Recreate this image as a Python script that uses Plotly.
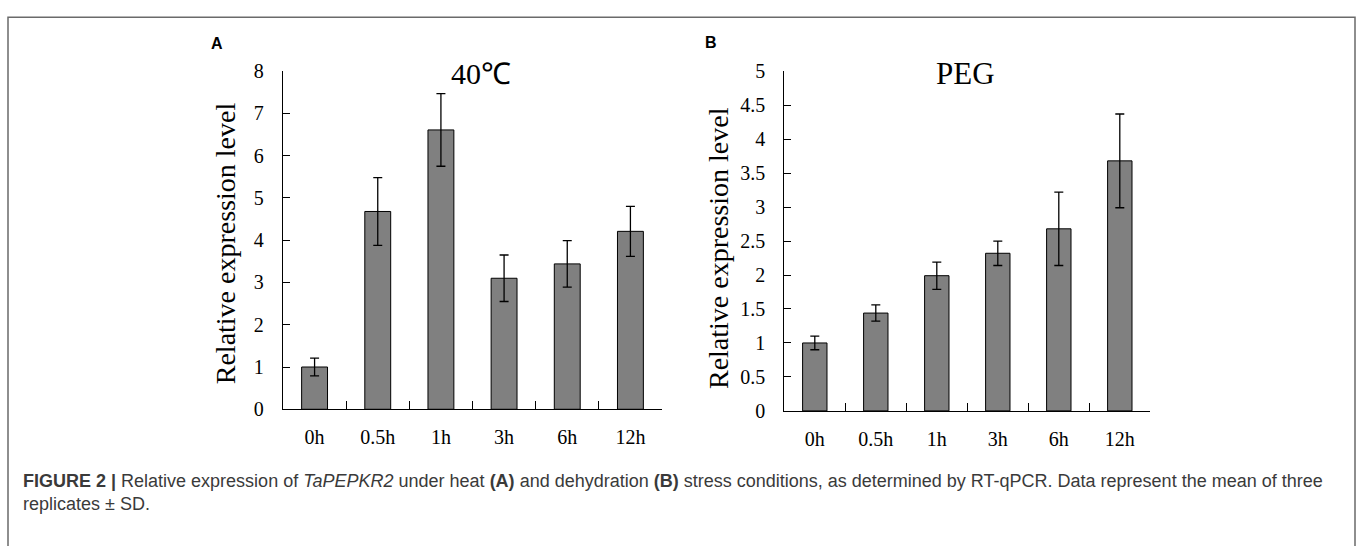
import plotly.graph_objects as go

W, H = 1358, 546

categories = ["0h", "0.5h", "1h", "3h", "6h", "12h"]

heat_values = [1.00, 4.68, 6.61, 3.10, 3.44, 4.21]
heat_sd = [0.21, 0.80, 0.86, 0.55, 0.55, 0.59]

peg_values = [1.00, 1.44, 1.99, 2.32, 2.68, 3.68]
peg_sd = [0.10, 0.12, 0.20, 0.18, 0.54, 0.69]

heat_title = "40℃"
peg_title = "PEG"
y_title = "Relative expression level"
caption_line1 = ("<b>FIGURE 2 |</b> Relative expression of <i>TaPEPKR2</i> under heat <b>(A)</b> and "
                 "dehydration <b>(B)</b> stress conditions, as determined by RT-qPCR. Data represent the mean of three")
caption_line2 = "replicates ± SD."

SERIF = "Liberation Serif, Times New Roman, serif"
SANS = "Liberation Sans, Arial, sans-serif"


def px_x(x):
    return x / W


def px_y(y):
    return 1 - y / H


fig = go.Figure()

fig.add_trace(go.Bar(
    x=categories, y=heat_values, width=0.41,
    marker=dict(color="#808080", line=dict(color="black", width=1)),
    error_y=dict(type="data", array=heat_sd, visible=True, color="black", thickness=1.3, width=4.5),
    xaxis="x", yaxis="y", showlegend=False,
))
fig.add_trace(go.Bar(
    x=categories, y=peg_values, width=0.40,
    marker=dict(color="#808080", line=dict(color="black", width=1)),
    error_y=dict(type="data", array=peg_sd, visible=True, color="black", thickness=1.3, width=4.5),
    xaxis="x2", yaxis="y2", showlegend=False,
))

xcommon = dict(
    type="category", tickson="boundaries", ticks="inside", ticklen=8, tickwidth=1, tickcolor="black",
    showline=True, linecolor="black", linewidth=1.3, showgrid=False, zeroline=False,
    tickfont=dict(family=SERIF, size=20, color="black"), ticklabelstandoff=10,
)
ycommon = dict(
    ticks="inside", ticklen=7, tickwidth=1, tickcolor="black",
    showline=True, linecolor="black", linewidth=1.3, showgrid=False, zeroline=False,
    tickfont=dict(family=SERIF, size=20, color="black"), ticklabelstandoff=14,
)

fig.update_layout(
    width=W, height=H,
    margin=dict(l=0, r=0, t=0, b=0),
    paper_bgcolor="white", plot_bgcolor="white",
    xaxis=dict(domain=[px_x(283), px_x(662)], anchor="y", **xcommon),
    yaxis=dict(domain=[px_y(415), px_y(62.7)], anchor="x", range=[0, 8], dtick=1, **ycommon),
    xaxis2=dict(domain=[px_x(784.3), px_x(1150.3)], anchor="y2", **xcommon),
    yaxis2=dict(domain=[px_y(416.7), px_y(62.7)], anchor="x2", range=[0, 5], dtick=0.5, **ycommon),
)

annotations = [
    dict(x=px_x(481), y=px_y(65), text=heat_title, font=dict(family=SERIF, size=30, color="black")),
    dict(x=px_x(965), y=px_y(65), text=peg_title, font=dict(family=SERIF, size=31, color="black")),
    dict(x=px_x(225), y=px_y(242), text=y_title, textangle=-90, font=dict(family=SERIF, size=28, color="black")),
    dict(x=px_x(718), y=px_y(247), text=y_title, textangle=-90, font=dict(family=SERIF, size=28, color="black")),
    dict(x=px_x(217), y=px_y(34), text="<b>A</b>", font=dict(family=SANS, size=16, color="black")),
    dict(x=px_x(711), y=px_y(33), text="<b>B</b>", font=dict(family=SANS, size=16, color="black")),
    dict(x=px_x(21), y=px_y(490), text=caption_line1, xanchor="left", font=dict(family=SANS, size=18, color="#3a3a3a")),
    dict(x=px_x(21), y=px_y(514), text=caption_line2, xanchor="left", font=dict(family=SANS, size=18, color="#3a3a3a")),
]
for a in annotations:
    a.setdefault("xanchor", "center")
    a.update(xref="paper", yref="paper", yanchor="middle", showarrow=False)
fig.update_layout(annotations=annotations)

fig.add_shape(type="rect", xref="paper", yref="paper",
              x0=px_x(8), x1=px_x(1355), y0=-0.1, y1=px_y(6.5),
              line=dict(color="#6a6a6a", width=1.5), fillcolor="rgba(0,0,0,0)")

fig.write_html("out.html", config={"displayModeBar": False},
               post_script="document.body.style.margin='0px';")
